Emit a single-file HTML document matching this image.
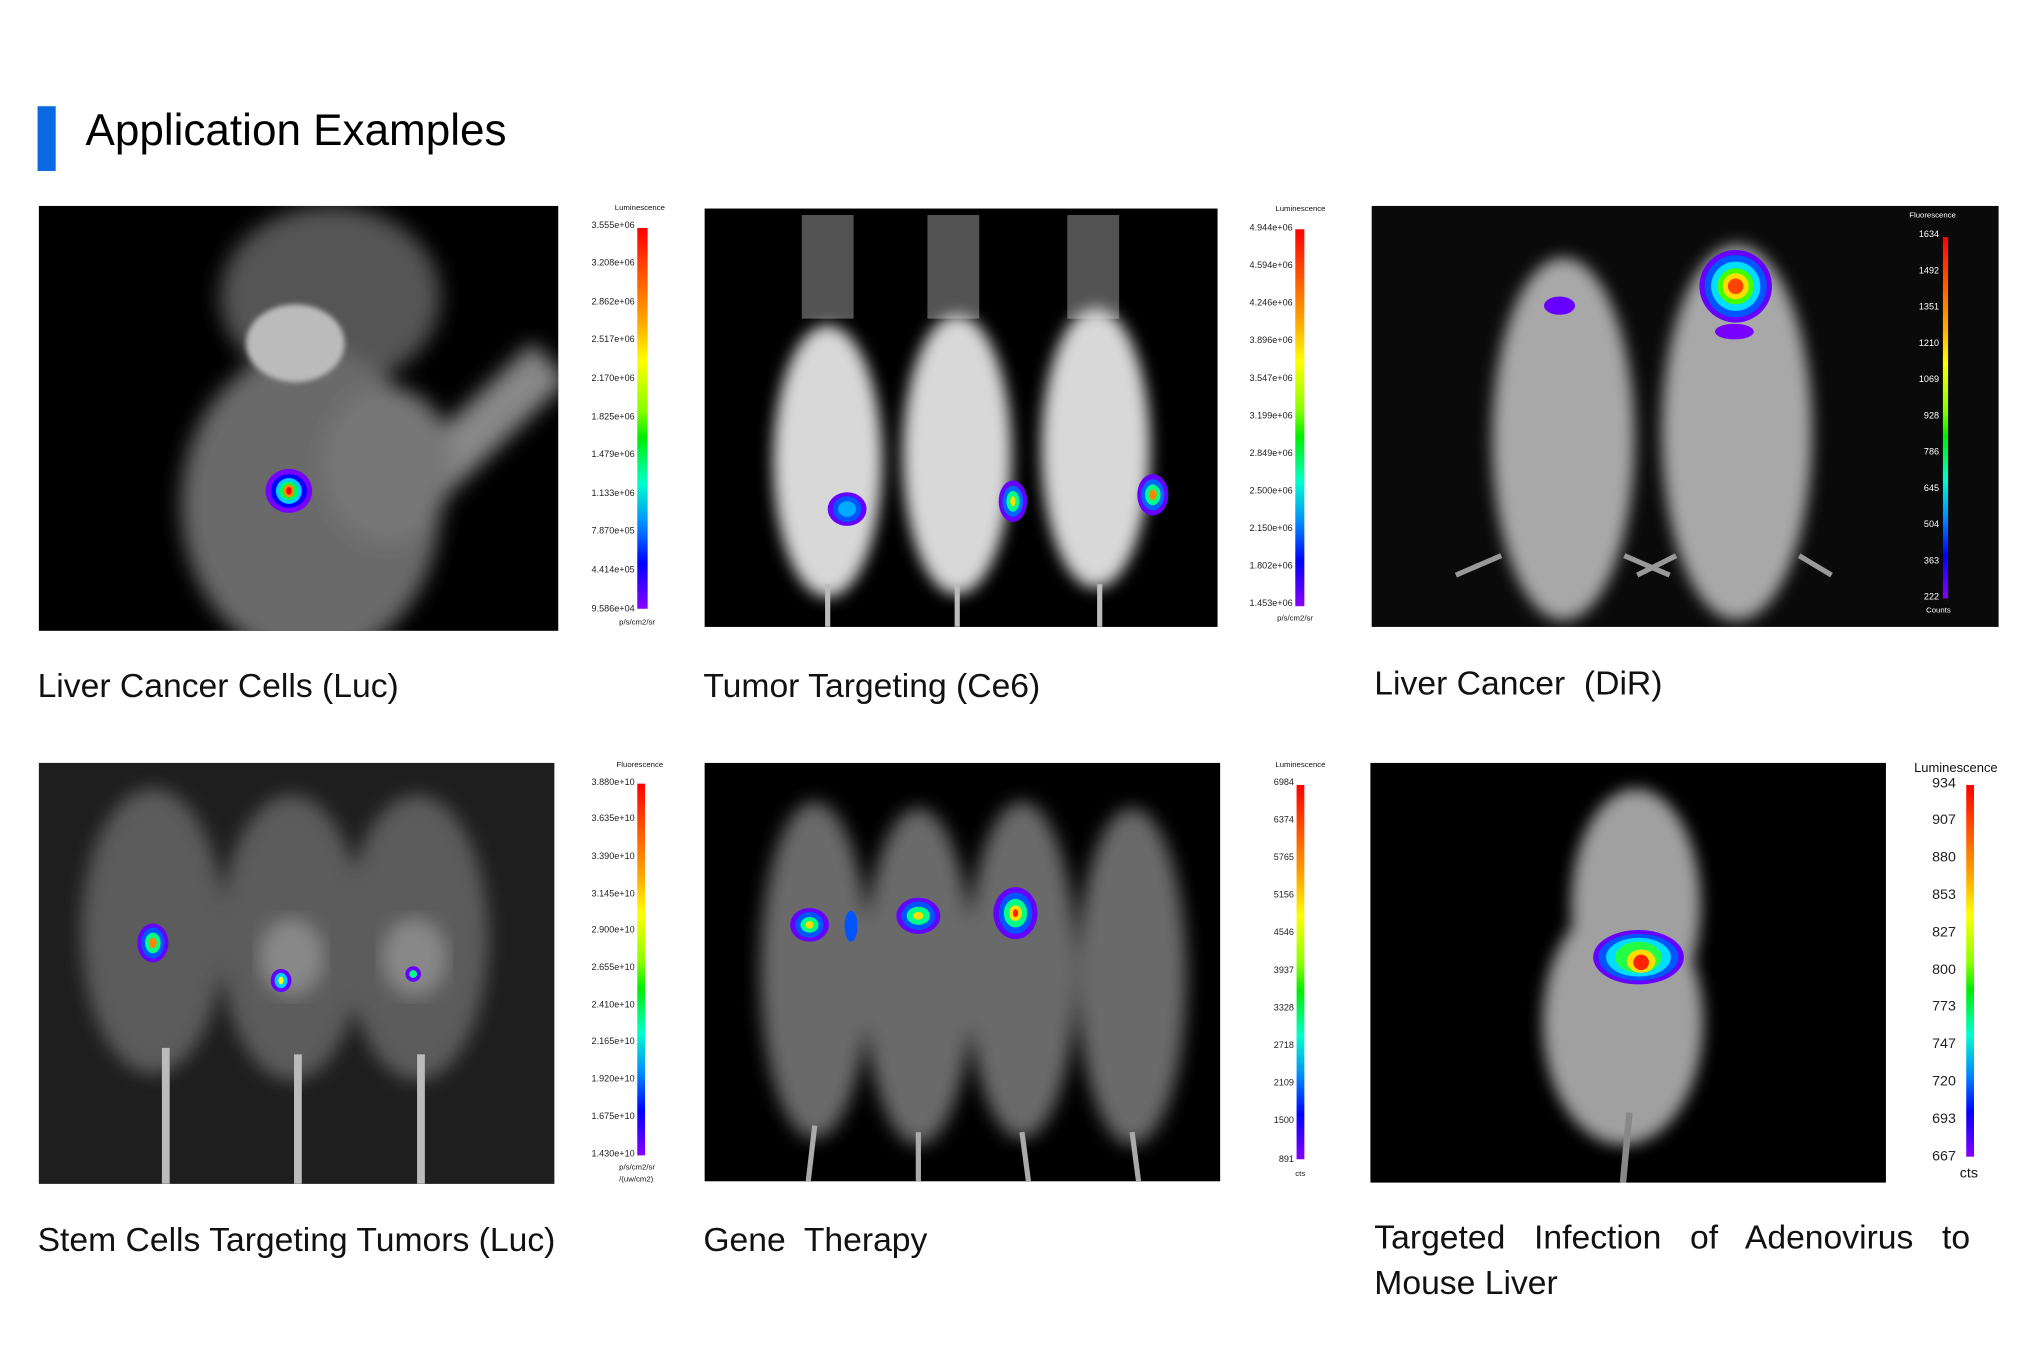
<!DOCTYPE html>
<html><head><meta charset="utf-8"><style>
html,body{margin:0;padding:0;background:#fff;}
body{width:2031px;height:1365px;overflow:hidden;position:relative;}
#c{position:absolute;left:0;top:0;width:1568px;height:1054px;transform:scale(1.29528);transform-origin:0 0;font-family:"Liberation Sans","Noto Sans CJK SC",sans-serif;color:#111;}
.a{position:absolute;}
.img{position:absolute;background:#000;overflow:hidden;}
.bar{position:absolute;background:linear-gradient(to bottom,#f00 0%,#f60 15%,#fa0 25%,#ff0 35%,#8f0 48%,#0e0 55%,#0fc 67%,#08f 78%,#00f 88%,#80f 100%);}
.lab{position:absolute;text-align:right;font-size:7px;color:#222;line-height:1;}
.cap{position:absolute;font-size:26px;color:#111;white-space:nowrap;}
</style></head><body><div id="c">
<div class="a" style="left:29px;top:82px;width:14px;height:50px;background:#0a68e0"></div>
<div class="a" style="left:66px;top:81px;font-size:34px;line-height:40px;color:#000">Application Examples</div>

<!-- IMG1 -->
<div class="img" style="left:30px;top:159px;width:401px;height:328px">
<svg width="401" height="328"><defs><filter id="b1"><feGaussianBlur stdDeviation="8"/></filter><filter id="b2"><feGaussianBlur stdDeviation="2"/></filter></defs>
<g filter="url(#b1)">
<ellipse cx="225" cy="70" rx="85" ry="70" fill="#555"/>
<ellipse cx="210" cy="230" rx="100" ry="120" fill="#6a6a6a"/>
<line x1="290" y1="220" x2="395" y2="120" stroke="#888" stroke-width="40"/>
<ellipse cx="270" cy="200" rx="50" ry="60" fill="#777"/>
</g>
<ellipse cx="198" cy="106" rx="38" ry="30" fill="#bbb" filter="url(#b2)"/>
<g transform="translate(193,220)"><ellipse rx="18" ry="17" fill="#70f"/><ellipse rx="14" ry="13" fill="#00f"/><ellipse rx="10" ry="10" fill="#0cf"/><ellipse rx="7" ry="7" fill="#0f4"/><ellipse rx="4" ry="5" fill="#f80"/><ellipse rx="2" ry="3" fill="#f00"/></g>
</svg></div>
<div class="a" style="left:468px;top:158px;width:52px;text-align:center;font-size:6px">Luminescence</div>
<div class="bar" style="left:492px;top:176px;width:8px;height:294px"></div>
<div class="a" style="left:478px;top:478px;font-size:6px">p/s/cm2/sr</div>

<!-- IMG2 -->
<div class="img" style="left:544px;top:161px;width:396px;height:323px">
<svg width="396" height="323"><defs><filter id="b3"><feGaussianBlur stdDeviation="6"/></filter></defs>
<g fill="#666" opacity=".8"><rect x="75" y="5" width="40" height="80"/><rect x="172" y="5" width="40" height="80"/><rect x="280" y="5" width="40" height="80"/></g>
<g filter="url(#b3)" fill="#d8d8d8">
<ellipse cx="95" cy="195" rx="42" ry="105"/><ellipse cx="195" cy="190" rx="42" ry="108"/><ellipse cx="302" cy="185" rx="42" ry="108"/></g>
<g stroke="#bbb" stroke-width="4"><line x1="95" y1="290" x2="95" y2="323"/><line x1="195" y1="290" x2="195" y2="323"/><line x1="305" y1="290" x2="305" y2="323"/></g>
<g transform="translate(110,232)"><ellipse rx="15" ry="13" fill="#60f"/><ellipse rx="11" ry="10" fill="#05f"/><ellipse rx="7" ry="6" fill="#0af"/></g>
<g transform="translate(238,226)"><ellipse rx="11" ry="16" fill="#60f"/><ellipse rx="8" ry="12" fill="#06f"/><ellipse rx="5" ry="8" fill="#0f8"/><ellipse rx="2" ry="4" fill="#fd0"/></g>
<g transform="translate(346,221)"><ellipse rx="12" ry="16" fill="#60f"/><ellipse rx="9" ry="12" fill="#06f"/><ellipse rx="6" ry="8" fill="#0f8"/><ellipse rx="3" ry="4" fill="#f80"/></g>
</svg></div>
<div class="a" style="left:976px;top:159px;width:56px;text-align:center;font-size:6px">Luminescence</div>
<div class="bar" style="left:1000px;top:177px;width:7px;height:291px"></div>
<div class="a" style="left:986px;top:475px;font-size:6px">p/s/cm2/sr</div>

<!-- IMG3 -->
<div class="img" style="left:1059px;top:159px;width:484px;height:325px;background:#0a0a0a">
<svg width="484" height="325"><defs><filter id="b4"><feGaussianBlur stdDeviation="6"/></filter></defs>
<g filter="url(#b4)" fill="#a8a8a8"><ellipse cx="148" cy="180" rx="55" ry="140"/><ellipse cx="282" cy="175" rx="58" ry="145"/></g>
<g stroke="#999" stroke-width="4"><line x1="100" y1="270" x2="65" y2="285"/><line x1="195" y1="270" x2="230" y2="285"/><line x1="235" y1="270" x2="205" y2="285"/><line x1="330" y1="270" x2="355" y2="285"/></g>
<ellipse cx="145" cy="77" rx="12" ry="7" fill="#60f"/>
<g transform="translate(281,62)"><ellipse rx="28" ry="28" fill="#60f"/><ellipse rx="24" ry="24" fill="#05f"/><ellipse rx="19" ry="19" fill="#0df"/><ellipse rx="14" ry="14" fill="#4f0"/><ellipse rx="10" ry="10" fill="#fd0"/><ellipse rx="6" ry="6" fill="#f40"/></g>
<ellipse cx="280" cy="97" rx="15" ry="6" fill="#70f"/>
</svg>
<div class="a" style="left:398px;top:5px;width:70px;text-align:center;font-size:6px;color:#fff">Fluorescence</div>
<div class="bar" style="left:441px;top:24px;width:4px;height:279px"></div>
<div class="a" style="left:428px;top:310px;font-size:6px;color:#fff">Counts</div>
</div>

<!-- IMG4 -->
<div class="img" style="left:30px;top:589px;width:398px;height:325px;background:#1e1e1e">
<svg width="398" height="325"><defs><filter id="b5"><feGaussianBlur stdDeviation="7"/></filter></defs>
<g filter="url(#b5)" fill="#5c5c5c"><ellipse cx="88" cy="130" rx="55" ry="110"/><ellipse cx="195" cy="135" rx="55" ry="110"/><ellipse cx="292" cy="135" rx="55" ry="110"/></g>
<ellipse cx="195" cy="150" rx="25" ry="30" fill="#888" filter="url(#b5)"/><ellipse cx="290" cy="150" rx="25" ry="30" fill="#888" filter="url(#b5)"/>
<g stroke="#bbb" stroke-width="6"><line x1="98" y1="220" x2="98" y2="325"/><line x1="200" y1="225" x2="200" y2="325"/><line x1="295" y1="225" x2="295" y2="325"/></g>
<g transform="translate(88,139)"><ellipse rx="12" ry="15" fill="#60f"/><ellipse rx="9" ry="12" fill="#05f"/><ellipse rx="6" ry="8" fill="#0f8"/><ellipse rx="3" ry="4" fill="#f80"/></g>
<g transform="translate(187,168)"><ellipse rx="8" ry="9" fill="#60f"/><ellipse rx="5" ry="6" fill="#0cf"/><ellipse rx="2" ry="3" fill="#ff0"/></g>
<g transform="translate(289,163)"><ellipse rx="6" ry="6" fill="#60f"/><ellipse rx="3" ry="3" fill="#0f8"/></g>
</svg></div>
<div class="a" style="left:468px;top:588px;width:52px;text-align:center;font-size:6px">Fluorescence</div>
<div class="bar" style="left:492px;top:605px;width:6px;height:287px"></div>
<div class="a" style="left:478px;top:898px;font-size:6px;line-height:9px">p/s/cm2/sr<br>/(uw/cm2)</div>

<!-- IMG5 -->
<div class="img" style="left:544px;top:589px;width:398px;height:323px">
<svg width="398" height="323"><defs><filter id="b6"><feGaussianBlur stdDeviation="7"/></filter></defs>
<g filter="url(#b6)" fill="#6a6a6a"><ellipse cx="85" cy="160" rx="42" ry="130"/><ellipse cx="165" cy="165" rx="42" ry="130"/><ellipse cx="245" cy="160" rx="42" ry="130"/><ellipse cx="330" cy="165" rx="42" ry="130"/></g>
<g stroke="#aaa" stroke-width="4"><line x1="85" y1="280" x2="80" y2="323"/><line x1="165" y1="285" x2="165" y2="323"/><line x1="245" y1="285" x2="250" y2="323"/><line x1="330" y1="285" x2="335" y2="323"/></g>
<g transform="translate(81,125)"><ellipse rx="15" ry="13" fill="#60f"/><ellipse rx="11" ry="10" fill="#05f"/><ellipse rx="7" ry="6" fill="#0f8"/><ellipse rx="3" ry="3" fill="#fd0"/></g>
<ellipse cx="113" cy="126" rx="5" ry="12" fill="#05f"/>
<g transform="translate(165,118)"><ellipse rx="17" ry="14" fill="#60f"/><ellipse rx="13" ry="11" fill="#05f"/><ellipse rx="9" ry="7" fill="#0f8"/><ellipse rx="4" ry="3" fill="#fd0"/></g>
<g transform="translate(240,116)"><ellipse rx="17" ry="20" fill="#60f"/><ellipse rx="13" ry="16" fill="#05f"/><ellipse rx="9" ry="11" fill="#0f8"/><ellipse rx="5" ry="6" fill="#fd0"/><ellipse rx="2" ry="3" fill="#f20"/></g>
</svg></div>
<div class="a" style="left:976px;top:588px;width:56px;text-align:center;font-size:6px">Luminescence</div>
<div class="bar" style="left:1001px;top:606px;width:6px;height:289px"></div>
<div class="a" style="left:1000px;top:904px;font-size:6px">cts</div>

<!-- IMG6 -->
<div class="img" style="left:1058px;top:589px;width:398px;height:324px">
<svg width="398" height="324"><defs><filter id="b7"><feGaussianBlur stdDeviation="6"/></filter></defs>
<g filter="url(#b7)" fill="#a0a0a0"><ellipse cx="205" cy="110" rx="50" ry="90"/><ellipse cx="195" cy="200" rx="62" ry="95"/></g>
<line x1="200" y1="270" x2="195" y2="324" stroke="#888" stroke-width="5"/>
<g transform="translate(207,150)"><ellipse rx="35" ry="21" fill="#60f"/><ellipse rx="31" ry="18" fill="#05f"/><ellipse rx="25" ry="15" fill="#0df"/><ellipse rx="18" ry="12" fill="#2f4"/><ellipse rx="11" ry="9" fill="#fd0" transform="translate(2,3)"/><ellipse rx="6" ry="6" fill="#f20" transform="translate(2,4)"/></g>
</svg></div>
<div class="a" style="left:1474px;top:588px;width:72px;text-align:center;font-size:10px">Luminescence</div>
<div class="bar" style="left:1518px;top:606px;width:6px;height:287px"></div>
<div class="a" style="left:1513px;top:900px;font-size:11px">cts</div>

<div id="labs"></div>

<div class="cap" style="left:29px;top:514px">Liver Cancer Cells (Luc)</div>
<div class="cap" style="left:543px;top:514px">Tumor Targeting (Ce6)</div>
<div class="cap" style="left:1061px;top:512px">Liver Cancer&nbsp; (DiR)</div>
<div class="cap" style="left:29px;top:942px">Stem Cells Targeting Tumors (Luc)</div>
<div class="cap" style="left:543px;top:942px">Gene&nbsp; Therapy</div>
<div class="cap" style="left:1061px;top:940px;width:460px;text-align:justify;text-align-last:justify">Targeted Infection of Adenovirus to</div>
<div class="cap" style="left:1061px;top:975px">Mouse Liver</div>
</div>
<script>
var sets=[
[490,174,470,"#222",7,["3.555e+06","3.208e+06","2.862e+06","2.517e+06","2.170e+06","1.825e+06","1.479e+06","1.133e+06","7.870e+05","4.414e+05","9.586e+04"]],
[998,176,466,"#222",7,["4.944e+06","4.594e+06","4.246e+06","3.896e+06","3.547e+06","3.199e+06","2.849e+06","2.500e+06","2.150e+06","1.802e+06","1.453e+06"]],
[1497,181,461,"#fff",7,["1634","1492","1351","1210","1069","928","786","645","504","363","222"]],
[490,604,891,"#222",7,["3.880e+10","3.635e+10","3.390e+10","3.145e+10","2.900e+10","2.655e+10","2.410e+10","2.165e+10","1.920e+10","1.675e+10","1.430e+10"]],
[999,604,895,"#222",7,["6984","6374","5765","5156","4546","3937","3328","2718","2109","1500","891"]],
[1510,605,893,"#222",11,["934","907","880","853","827","800","773","747","720","693","667"]]];
var h="";
sets.forEach(function(s){for(var i=0;i<11;i++){var y=s[1]+(s[2]-s[1])*i/10;h+='<div class="lab" style="left:'+(s[0]-60)+'px;width:60px;top:'+(y-s[4]/2)+'px;font-size:'+s[4]+'px;color:'+s[3]+'">'+s[5][i]+'</div>';}});
document.getElementById("labs").innerHTML=h;
</script>
</body></html>
